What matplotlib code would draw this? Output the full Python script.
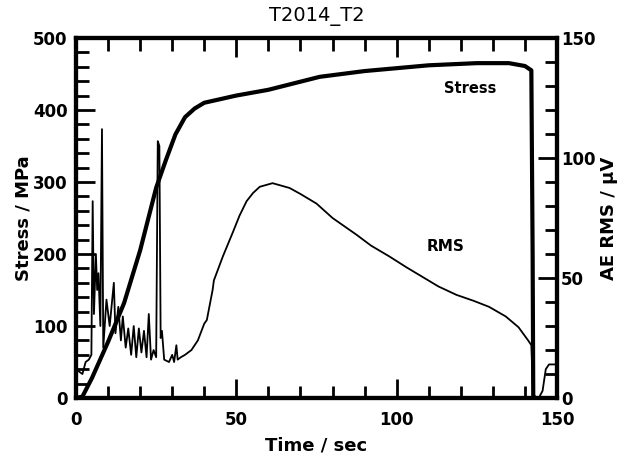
import matplotlib
matplotlib.use('Agg')
import matplotlib.pyplot as plt
from matplotlib.ticker import MultipleLocator

# stress curve (left axis, MPa)
t_stress = [0, 2, 5, 10, 15, 20, 25, 28, 31, 34, 37, 40, 45, 50, 60, 76, 90,
            100, 110, 125, 135, 140, 142, 142.4, 142.6]
stress = [0, 2, 28, 78, 132, 205, 292, 330, 366, 390, 402, 410, 415, 420, 428,
          446, 454, 458, 462, 465, 465, 461, 455, 200, 0]

# AE RMS (right axis, uV)
t_rms = [0, 1, 2, 3, 4, 4.8, 5.2, 5.6, 6.2, 6.6, 7.0, 7.6, 8.1, 8.5, 9.5, 10.5,
         11.8, 12.3, 13.2, 14, 14.6, 15.5, 16.3, 17.2, 18, 18.8, 19.6, 20.4,
         21.2, 22, 22.7, 23.4, 24.2, 25, 25.5, 26.0, 26.4, 26.8, 27.5, 29, 30,
         30.6, 31.3, 31.7, 32.7, 34, 36, 38, 40, 40.8, 42.6, 43, 45.8, 48.9, 51,
         53.2, 55.2, 57.3, 61.3, 66.6, 70, 75, 80, 87.5, 92, 97.7, 103, 108,
         113, 118.6, 124, 128.8, 134, 138, 141, 142, 142.5, 143.5, 144.5,
         145.5, 146.5, 147.5, 149, 150]
rms = [12, 11, 10, 15, 16, 18, 82, 35, 60, 45, 52, 30, 112, 21, 41, 30,
       48, 27, 38, 24, 34, 21, 29, 18, 30, 17, 29, 19,
       28, 17, 35, 16, 20, 17, 107, 105, 25, 28, 16, 15, 18,
       15, 22, 16, 17, 18, 20, 24, 31, 32.5, 45, 49, 59, 69, 76,
       82, 85.4, 88, 89.5, 87.5, 85, 81, 75, 68, 63.5, 59, 54.5, 50.5,
       46.5, 43, 40.5, 38, 34, 29.5, 24, 22, 2, 0, 0.5,
       3, 12, 14, 14, 14]

fig = plt.figure(figsize=(6.25, 4.57), dpi=100)
ax = fig.add_axes([0.1216, 0.129, 0.7696, 0.788])
ax2 = ax.twinx()

ax.plot(t_stress, stress, color='black', lw=3)
ax2.plot(t_rms, rms, color='black', lw=1.3)

ax.set_xlim(0, 150)
ax.set_ylim(0, 500)
ax2.set_ylim(0, 150)

ax.xaxis.set_major_locator(MultipleLocator(50))
ax.xaxis.set_minor_locator(MultipleLocator(10))
ax.yaxis.set_major_locator(MultipleLocator(100))
ax.yaxis.set_minor_locator(MultipleLocator(20))
ax2.yaxis.set_major_locator(MultipleLocator(50))
ax2.yaxis.set_minor_locator(MultipleLocator(10))

for a in (ax, ax2):
    for s in a.spines.values():
        s.set_linewidth(3)
ax.tick_params(which='both', direction='in', top=True, width=2, pad=6,
               labelsize=12)
ax.tick_params(axis='x', which='major', pad=9)
ax.tick_params(which='major', length=14)
ax.tick_params(which='minor', length=9)
ax2.tick_params(which='both', direction='in', width=2, pad=3, labelsize=12)
ax2.tick_params(which='major', length=14)
ax2.tick_params(which='minor', length=9)

for a in (ax, ax2):
    for lbl in a.get_xticklabels() + a.get_yticklabels():
        lbl.set_fontweight('bold')

ax.set_xlabel('Time / sec', fontweight='bold', fontsize=13, labelpad=6)
ax.set_ylabel('Stress / MPa', fontweight='bold', fontsize=13)
ax2.set_ylabel('AE RMS / μV', fontweight='bold', fontsize=13)
ax.yaxis.set_label_coords(-0.09, 0.5)
ax2.yaxis.set_label_coords(1.09, 0.5)
ax.set_title('T2014_T2', fontsize=14, pad=12)

ax.text(122.9, 430, 'Stress', fontweight='bold', fontsize=10.5,
        ha='center', va='center')
ax2.text(115.4, 63.3, 'RMS', fontweight='bold', fontsize=11,
         ha='center', va='center')

fig.savefig('out.png', dpi=100)
